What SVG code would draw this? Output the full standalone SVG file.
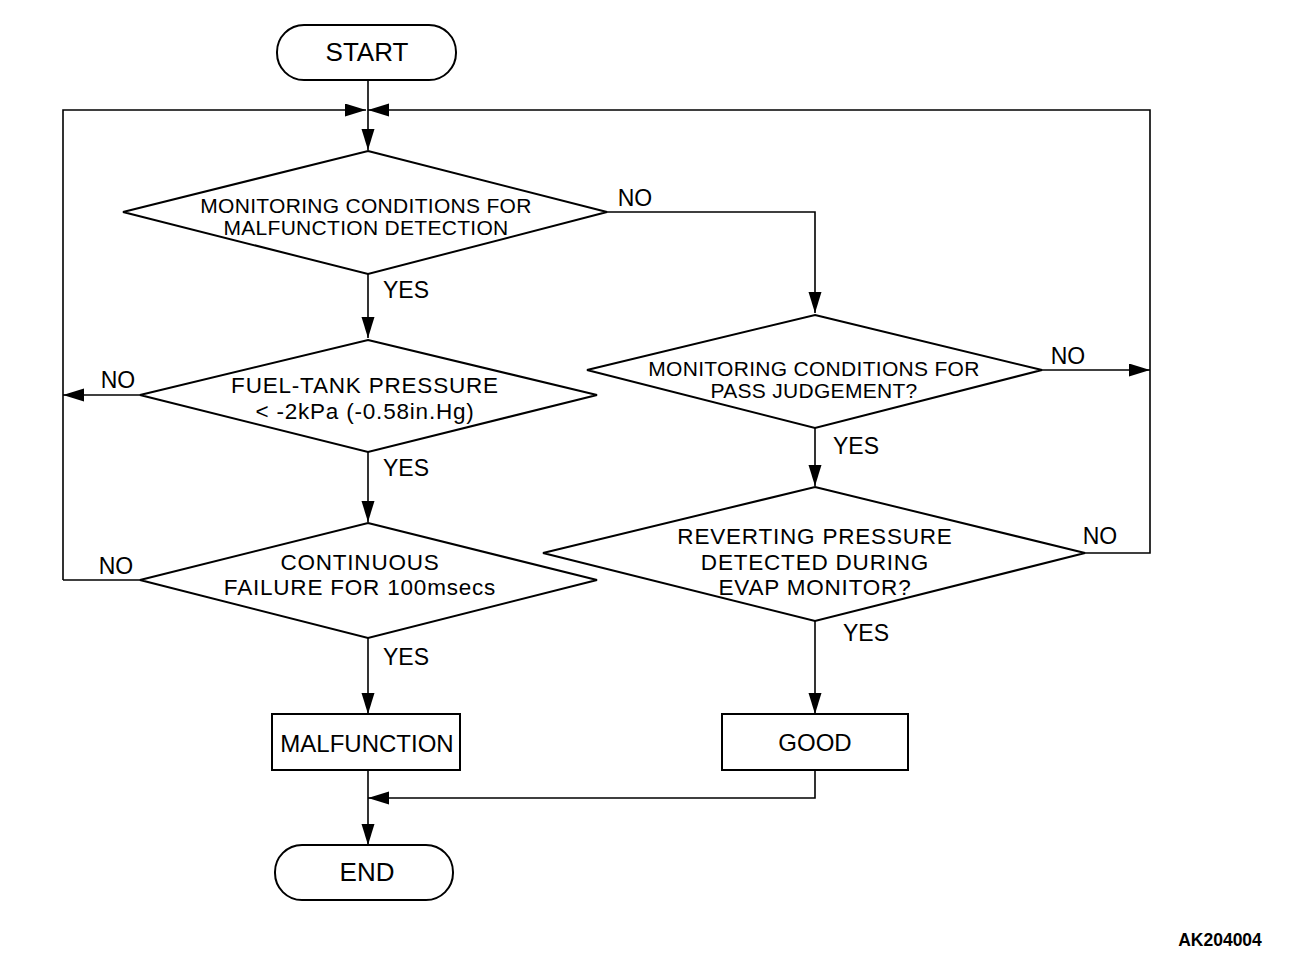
<svg xmlns="http://www.w3.org/2000/svg" width="1312" height="966" viewBox="0 0 1312 966">
<style>
.shape{fill:#fff;stroke:#000;stroke-width:2}
.conn{fill:none;stroke:#000;stroke-width:1.6}
text{font-family:"Liberation Sans",Arial,Helvetica,sans-serif;fill:#000;text-anchor:middle}
.t21{font-size:21px;letter-spacing:0.3px}
.t24{font-size:24px}
.t23{font-size:22.5px;letter-spacing:0.8px}
.t26{font-size:26px}
.lbl{font-size:23px}
.id{font-size:17.5px;font-weight:bold}
</style>
<defs>
<marker id="ah" markerUnits="userSpaceOnUse" markerWidth="22" markerHeight="14" refX="21" refY="6.5" orient="auto">
<path d="M0,0 L21,6.5 L0,13 z" fill="#000"/>
</marker>
</defs>
<rect width="1312" height="966" fill="#fff"/>
<g id="connectors">
<path class="conn" d="M368,80 V150" marker-end="url(#ah)"/>
<path class="conn" d="M63,580 V110 H366" marker-end="url(#ah)"/>
<path class="conn" d="M1085,553 H1150 V110 H368" marker-end="url(#ah)"/>
<path class="conn" d="M368,273 V338" marker-end="url(#ah)"/>
<path class="conn" d="M368,452 V522" marker-end="url(#ah)"/>
<path class="conn" d="M368,638 V714" marker-end="url(#ah)"/>
<path class="conn" d="M368,770 V845" marker-end="url(#ah)"/>
<path class="conn" d="M607,212 H815 V313" marker-end="url(#ah)"/>
<path class="conn" d="M815,428 V486" marker-end="url(#ah)"/>
<path class="conn" d="M815,621 V714" marker-end="url(#ah)"/>
<path class="conn" d="M815,770 V798 H368" marker-end="url(#ah)"/>
<path class="conn" d="M140,395 H63" marker-end="url(#ah)"/>
<path class="conn" d="M140,580 H63"/>
<path class="conn" d="M1042,370 H1150" marker-end="url(#ah)"/>
<text class="lbl" x="635" y="206">NO</text>
<text class="lbl" x="406" y="298">YES</text>
<text class="lbl" x="118" y="388">NO</text>
<text class="lbl" x="406" y="476">YES</text>
<text class="lbl" x="116" y="574">NO</text>
<text class="lbl" x="406" y="665">YES</text>
<text class="lbl" x="1068" y="364">NO</text>
<text class="lbl" x="856" y="454">YES</text>
<text class="lbl" x="1100" y="544">NO</text>
<text class="lbl" x="866" y="641">YES</text>
</g>
<g id="start">
<rect class="shape" x="277" y="25" width="179" height="55" rx="27" ry="27"/>
<text class="t26" x="367" y="61">START</text>
</g>
<g id="d1">
<polygon class="shape" points="368,151 607,212 368,274 123,212"/>
<text class="t21" x="366" y="213">MONITORING CONDITIONS FOR</text>
<text class="t21" x="366" y="235">MALFUNCTION DETECTION</text>
</g>
<g id="d2">
<polygon class="shape" points="368,340 597,395 368,452 140,395"/>
<text class="t23" x="365" y="393">FUEL-TANK PRESSURE</text>
<text class="t23" x="365" y="418.5">&lt; -2kPa (-0.58in.Hg)</text>
</g>
<g id="d3">
<polygon class="shape" points="368,523 597,580 368,638 140,580"/>
<text class="t23" x="360" y="569.5">CONTINUOUS</text>
<text class="t23" x="360" y="595">FAILURE FOR 100msecs</text>
</g>
<g id="malfunction">
<rect class="shape" x="272" y="714" width="188" height="56"/>
<text class="t24" x="367" y="752">MALFUNCTION</text>
</g>
<g id="end">
<rect class="shape" x="275" y="845" width="178" height="55" rx="27" ry="27"/>
<text class="t26" x="367" y="881">END</text>
</g>
<g id="d4">
<polygon class="shape" points="815,315 1042,370 815,428 587,370"/>
<text class="t21" x="814" y="376">MONITORING CONDITIONS FOR</text>
<text class="t21" x="814" y="398">PASS JUDGEMENT?</text>
</g>
<g id="d5">
<polygon class="shape" points="815,487 1085,553 815,621 543,553"/>
<text class="t23" x="815" y="544">REVERTING PRESSURE</text>
<text class="t23" x="815" y="569.5">DETECTED DURING</text>
<text class="t23" x="815" y="595">EVAP MONITOR?</text>
</g>
<g id="good">
<rect class="shape" x="722" y="714" width="186" height="56"/>
<text class="t24" x="815" y="751">GOOD</text>
</g>
<text class="id" x="1220" y="946">AK204004</text>
</svg>
